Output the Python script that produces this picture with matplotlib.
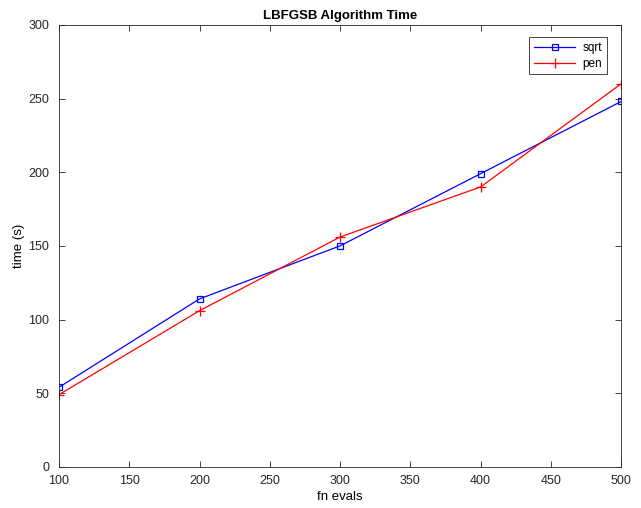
import matplotlib
matplotlib.use("Agg")
import matplotlib.pyplot as plt

fn_evals = [100, 200, 300, 400, 500]
sqrt_time = [54, 114, 150, 199, 248]
pen_time = [49, 106, 156, 190, 260]

plt.rcParams["font.family"] = ["Liberation Sans", "DejaVu Sans"]
plt.rcParams["font.size"] = 8

fig = plt.figure(figsize=(6.41, 5.08), dpi=100)
ax = fig.add_axes([0.092, 0.081, 0.877, 0.870])

ax.plot(fn_evals, sqrt_time, color="#0000ff", linewidth=0.9, marker="s",
        markersize=5, markerfacecolor="none", markeredgewidth=0.9, label="sqrt")
ax.plot(fn_evals, pen_time, color="#ff0000", linewidth=0.9, marker="+",
        markersize=7, markeredgewidth=0.9, label="pen")

ax.set_xlim(100, 500)
ax.set_ylim(0, 300)
ax.set_xticks(range(100, 501, 50))
ax.set_yticks(range(0, 301, 50))
ax.tick_params(direction="in", top=True, right=True, length=4, width=0.6,
               colors="#262626", labelsize=9)
ax.tick_params(axis="x", pad=6)
ax.tick_params(axis="y", pad=7)
for spine in ax.spines.values():
    spine.set_linewidth(0.6)
    spine.set_color("#262626")

ax.set_title("LBFGSB Algorithm Time", fontweight="bold", fontsize=9.5, pad=4)
ax.set_xlabel("fn evals", fontsize=9.5, labelpad=3)
ax.set_ylabel("time (s)", fontsize=9.5, labelpad=2)

leg = ax.legend(loc="upper right", bbox_to_anchor=(0.985, 0.985), fontsize=8.5,
                fancybox=False, framealpha=1, edgecolor="#262626",
                handlelength=3.5, borderpad=0.4, labelspacing=0.3,
                handletextpad=0.6)
leg.get_frame().set_linewidth(0.6)

fig.savefig("out.png", dpi=100)
